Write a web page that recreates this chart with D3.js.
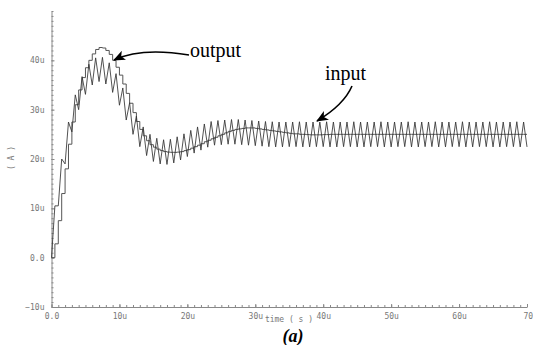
<!DOCTYPE html>
<html>
<head>
<meta charset="utf-8">
<script src="https://cdn.jsdelivr.net/npm/d3@7"></script>
<style>
  html, body { margin: 0; padding: 0; background: #fff; }
  svg { display: block; }
  .tick text { font-family: "DejaVu Sans Mono", monospace; font-size: 8px; fill: #777; }
</style>
</head>
<body>
<div id="chart"></div>
<script>
// sample spacing of both traces, in u s
const step = 0.5;

// input current (uA): triangle ripple vertices, one every 0.5u
const inputValues = [
  0, 10.5, 10.5, 20, 19, 27.5, 25.5, 33, 30, 36.7,
  33.1, 39.2, 35, 40.5, 35.7, 40.6, 35.2, 39.5, 33.5, 37.3,
  30.9, 34.4, 27.9, 31.4, 25, 28.7, 22.5, 26.5, 20.7, 25,
  19.5, 24.2, 19, 23.9, 18.9, 24, 19.2, 24.5, 19.8, 25.1,
  20.5, 25.8, 21.2, 26.5, 21.8, 27.1, 22.4, 27.6, 22.8, 27.8,
  22.9, 27.9, 23, 28, 23, 28, 22.9, 27.9, 22.8, 27.8,
  22.7, 27.7, 22.6, 27.6, 22.5, 27.55, 22.45, 27.5, 22.45, 27.5,
  22.5, 27.5, 22.5, 27.55, 22.45, 27.5, 22.45, 27.5, 22.5, 27.5,
  22.5, 27.55, 22.45, 27.5, 22.45, 27.5, 22.5, 27.5, 22.5, 27.55,
  22.45, 27.5, 22.45, 27.5, 22.5, 27.5, 22.5, 27.55, 22.45, 27.5,
  22.45, 27.5, 22.5, 27.5, 22.5, 27.55, 22.45, 27.5, 22.45, 27.5,
  22.5, 27.5, 22.5, 27.55, 22.45, 27.5, 22.45, 27.5, 22.5, 27.5,
  22.5, 27.55, 22.45, 27.5, 22.45, 27.5, 22.5, 27.5, 22.5, 27.55,
  22.45, 27.5, 22.45, 27.5, 22.5, 27.5, 22.5, 27.55, 22.45, 27.5,
  22.45
];

// output current (uA): held level for each 0.5u step
const outputValues = [
  0, 2.8, 7.5, 13, 18, 23, 27.5, 31, 34, 36.5,
  38.5, 40, 41.3, 42.2, 42.6, 42.5, 42, 41.2, 40, 38.6,
  37, 35.2, 33.3, 31.3, 29.4, 27.6, 26, 24.7, 23.7, 22.9,
  22.4, 22, 21.7, 21.5, 21.4, 21.35, 21.35, 21.4, 21.5, 21.7,
  21.9, 22.2, 22.5, 22.8, 23.1, 23.5, 23.8, 24.1, 24.4, 24.7,
  25, 25.3, 25.6, 25.8, 26, 26.1, 26.2, 26.3, 26.3, 26.3,
  26.2, 26.1, 26, 25.9, 25.8, 25.7, 25.6, 25.5, 25.4, 25.3,
  25.2, 25.1, 25.1, 25, 25, 24.95, 24.9, 24.9, 24.9, 24.9,
  24.95, 24.95, 25, 25, 25, 25, 25, 25, 25, 25,
  25, 25, 25, 25, 25, 25, 25, 25, 25, 25,
  25, 25, 25, 25, 25, 25, 25, 25, 25, 25,
  25, 25, 25, 25, 25, 25, 25, 25, 25, 25,
  25, 25, 25, 25, 25, 25, 25, 25, 25, 25,
  25, 25, 25, 25, 25, 25, 25, 25, 25, 25,
  25
];

// axis ticks
const xTickValues = [0, 10, 20, 30, 40, 50, 60, 70];
const xTickLabels = ['0.0', '10u', '20u', '30u', '40u', '50u', '60u', '70'];
const yTickValues = [-10, 0, 10, 20, 30, 40];
const yTickLabels = ['\u221210u', '0.0', '10u', '20u', '30u', '40u'];

const width = 533;
const height = 345;

const svg = d3.select('#chart')
  .append('svg')
  .attr('width', width)
  .attr('height', height);

const x = d3.scaleLinear().domain([0, 70]).range([51.5, 527]);
const y = d3.scaleLinear().domain([-10, 50]).range([307, 11]);

const inputData = inputValues.map((v, i) => ({ t: i * step, v }));
const outputData = outputValues.map((v, i) => ({ t: i * step, v }));

// Minor ticks, every 1u, pointing inwards
svg.append('g')
  .attr('transform', `translate(0,${y(-10)})`)
  .call(d3.axisBottom(x).tickValues(d3.range(0, 71)).tickSize(-2).tickFormat(() => ''))
  .call(g => g.select('.domain').remove());

svg.append('g')
  .attr('transform', `translate(${x(0)},0)`)
  .call(d3.axisLeft(y).tickValues(d3.range(-10, 51)).tickSize(-2).tickFormat(() => ''))
  .call(g => g.select('.domain').remove());

// Major axes
svg.append('g')
  .attr('class', 'x-axis')
  .attr('transform', `translate(0,${y(-10)})`)
  .call(d3.axisBottom(x)
    .tickValues(xTickValues)
    .tickSize(-3)
    .tickSizeOuter(0)
    .tickPadding(6)
    .tickFormat((d, i) => xTickLabels[i]));

// last label sits against the right edge
svg.select('.x-axis .tick:last-of-type text').attr('text-anchor', 'start').attr('x', -4);

svg.append('g')
  .attr('class', 'y-axis')
  .attr('transform', `translate(${x(0)},0)`)
  .call(d3.axisLeft(y)
    .tickValues(yTickValues)
    .tickSize(-3)
    .tickSizeOuter(0)
    .tickPadding(7)
    .tickFormat((d, i) => yTickLabels[i]));

svg.selectAll('.domain, .tick line').attr('stroke', '#888');

// Axis titles
svg.append('text')
  .attr('transform', `translate(14,158) rotate(-90)`)
  .attr('text-anchor', 'middle')
  .style('font-family', '"DejaVu Sans Mono", monospace')
  .style('font-size', '8px')
  .attr('fill', '#777')
  .text('( A )');

svg.append('text')
  .attr('x', 289)
  .attr('y', 322)
  .attr('text-anchor', 'middle')
  .style('font-family', '"DejaVu Sans Mono", monospace')
  .style('font-size', '8px')
  .attr('fill', '#777')
  .text('time ( s )');

// Traces
const stairLine = d3.line()
  .x(d => x(d.t))
  .y(d => y(d.v))
  .curve(d3.curveStepAfter);

const zigLine = d3.line()
  .x(d => x(d.t))
  .y(d => y(d.v));

svg.append('path')
  .datum(outputData)
  .attr('d', stairLine)
  .attr('fill', 'none')
  .attr('stroke', '#555')
  .attr('stroke-width', 1);

svg.append('path')
  .datum(inputData)
  .attr('d', zigLine)
  .attr('fill', 'none')
  .attr('stroke', '#333')
  .attr('stroke-width', 0.85);

// Annotations
const defs = svg.append('defs');
defs.append('marker')
  .attr('id', 'head')
  .attr('viewBox', '0 0 12 10')
  .attr('refX', 11)
  .attr('refY', 5)
  .attr('markerWidth', 12)
  .attr('markerHeight', 10)
  .attr('markerUnits', 'userSpaceOnUse')
  .attr('orient', 'auto')
  .append('path')
  .attr('d', 'M0,0 L12,5 L0,10 L3,5 Z')
  .attr('fill', '#000');

svg.append('path')
  .attr('d', 'M189,55 C165,51 135,50 114,60')
  .attr('fill', 'none')
  .attr('stroke', '#000')
  .attr('stroke-width', 1.6)
  .attr('marker-end', 'url(#head)');

svg.append('path')
  .attr('d', 'M352,86 C346,100 332,112 317,121')
  .attr('fill', 'none')
  .attr('stroke', '#000')
  .attr('stroke-width', 1.6)
  .attr('marker-end', 'url(#head)');

svg.append('text')
  .attr('x', 190)
  .attr('y', 57)
  .style('font-family', '"Liberation Serif", "Times New Roman", serif')
  .style('font-size', '20px')
  .text('output');

svg.append('text')
  .attr('x', 325)
  .attr('y', 80)
  .style('font-family', '"Liberation Serif", "Times New Roman", serif')
  .style('font-size', '20px')
  .text('input');

svg.append('text')
  .attr('x', 293)
  .attr('y', 342)
  .attr('text-anchor', 'middle')
  .style('font-family', '"Liberation Serif", "Times New Roman", serif')
  .style('font-size', '18px')
  .style('font-weight', 'bold')
  .style('font-style', 'italic')
  .text('(a)');
</script>
</body>
</html>
